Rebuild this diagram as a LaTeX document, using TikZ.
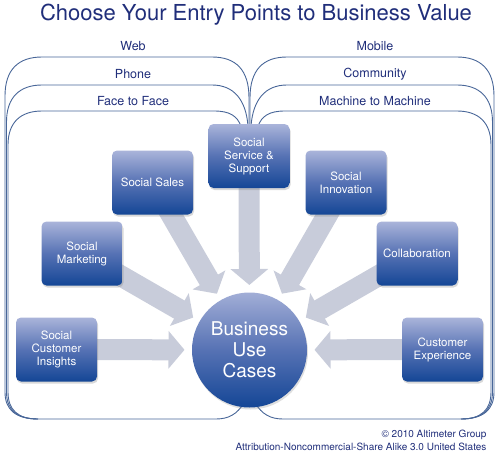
\documentclass[tikz,border=0pt]{standalone}
\usepackage{fontspec}
\setmainfont{TeX Gyre Heros}
\usetikzlibrary{arrows.meta,calc,shadows,backgrounds}

\definecolor{titleblue}{RGB}{32,46,122}
\definecolor{panelline}{RGB}{72,102,152}
\definecolor{boxtop}{RGB}{170,180,218}
\definecolor{boxmid}{RGB}{86,114,180}
\definecolor{boxbot}{RGB}{20,70,150}
\definecolor{arrowgray}{RGB}{200,204,218}

\tikzset{
  panel/.style={panelline,line width=0.9pt},
  panellabel/.style={text=titleblue,font=\fontsize{12.5}{14}\selectfont},
  usecase/.style={rounded corners=5pt,minimum width=81pt,minimum height=64pt,
    top color=boxtop,bottom color=boxbot,middle color=boxmid,text=white,
    align=center,font=\fontsize{11.5}{13}\selectfont,inner sep=2pt,
    drop shadow={opacity=0.3,shadow xshift=1pt,shadow yshift=-2pt}},
  flow/.style={arrowgray,line width=21pt,-{Triangle[length=16pt,width=37pt]}}
}

\begin{document}
\begin{tikzpicture}[x=1pt,y=-1pt]

\useasboundingbox (0,0) rectangle (499,455);

%=================================================
% TITLE
%=================================================

\node[text=titleblue,font=\fontsize{22}{24}\selectfont]
(title) at (256,15)
{Choose Your Entry Points to Business Value};

%=================================================
% CHANNEL PANELS (left, then mirrored right)
%=================================================

\foreach \side/\shift in {1/0,-1/499}
{
\begin{scope}[xshift=\shift pt,xscale=\side]

% outer panel
\draw[panel]
(249,126)--(249,98) .. controls (249,70) and (236,57) .. (212,57)
--(42,57) .. controls (18,57) and (5,70) .. (5,96)
--(5,392) .. controls (5,410) and (16,419) .. (38,419)
--(216,419) .. controls (229,419) and (237,414) .. (244,403);

% middle panel
\draw[panel]
(248,126) .. controls (246,100) and (234,85) .. (212,85)
--(42,85) .. controls (20,85) and (6.5,97) .. (6.5,122)
--(6.5,392) .. controls (6.5,410) and (17,419) .. (38,419);

% inner panel
\draw[panel]
(241,126) .. controls (237,116) and (230,111) .. (214,111)
--(42,111) .. controls (21,111) and (8,122) .. (8,145)
--(8,392) .. controls (8,410) and (18,419) .. (38,419);

\end{scope}
}

\node[panellabel] (web) at (133,46) {Web};
\node[panellabel] (phone) at (133,74) {Phone};
\node[panellabel] (face) at (133,101) {Face to Face};

\node[panellabel] (mobile) at (375,46) {Mobile};
\node[panellabel] (community) at (375,74) {Community};
\node[panellabel] (machine) at (375,101) {Machine to Machine};

%=================================================
% USE CASES
%=================================================

\node[usecase] (service) at (249,156) {Social\\Service \&\\Support};
\node[usecase] (sales) at (152.5,182.5) {Social Sales};
\node[usecase] (innovation) at (346,182.5) {Social\\Innovation};
\node[usecase] (marketing) at (82,253.5) {Social\\Marketing};
\node[usecase] (collab) at (417,253.5) {Collaboration};
\node[usecase] (insights) at (56.5,349.5) {Social\\Customer\\Insights};
\node[usecase] (experience) at (442.5,349.5) {Customer\\Experience};

% centre circle
\node[circle,minimum size=115pt,inner sep=0pt,
  top color=boxtop!90!boxmid,bottom color=boxbot,middle color=boxmid,
  text=white,align=center,font=\fontsize{19}{21}\selectfont,
  drop shadow={opacity=0.25,shadow xshift=1pt,shadow yshift=-2pt}]
(cases) at (249.5,350)
{Business\\Use\\Cases};

%=================================================
% FLOW ARROWS
%=================================================

\begin{scope}[on background layer]
\foreach \src in {service,sales,innovation,marketing,collab,insights,experience}
{
\coordinate (tip-\src) at ($(cases.center)!65pt!(\src.center)$);
\draw[flow]
(\src.center)--(tip-\src);
}
\end{scope}

%=================================================
% FOOTER
%=================================================

\node[anchor=east,text=titleblue,font=\fontsize{10}{11}\selectfont]
(copy) at (490,435)
{\textcopyright{} 2010 Altimeter Group};

\node[anchor=east,text=titleblue,font=\fontsize{10}{11}\selectfont]
(licence) at (490,447)
{Attribution-Noncommercial-Share Alike 3.0 United States};

\end{tikzpicture}
\end{document}
